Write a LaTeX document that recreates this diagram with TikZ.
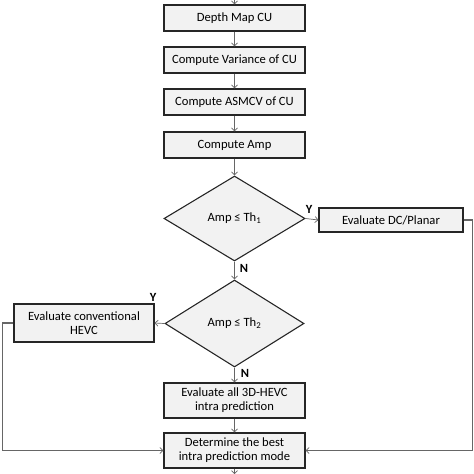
\documentclass[tikz,border=0pt]{standalone}
\usepackage{fontspec}
\setmainfont{Carlito}
\usetikzlibrary{arrows.meta,shapes.geometric,calc,positioning}

\begin{document}
\begin{tikzpicture}[x=1pt,y=-1pt]
		\tikzstyle{every node}=[font=\fontsize{12.6}{14}\selectfont]
		\tikzstyle{stepbox}=[draw=black!85, line width=1.1pt, fill=black!5, minimum width=141pt, align=center, inner sep=1pt]
		\tikzstyle{decision}=[diamond, draw=black!85, line width=1.1pt, fill=black!5, aspect=1.65, inner sep=0pt]
		\tikzstyle{link}=[draw=black!60, line width=0.7pt, -{Straight Barb[length=3pt,width=6pt]}]
		\tikzstyle{loop}=[draw=black!60, line width=1.4pt]
		\tikzstyle{yn}=[font=\fontsize{12.5}{14}\selectfont\bfseries]
		\useasboundingbox (0,0) rectangle (474,474);
		% main column
		\coordinate (start) at (234.5,0);
		\node [stepbox, minimum height=26pt] (depth) at (234.5,18) {Depth Map CU};
		\node [stepbox, minimum height=26pt] (var) at (234.5,60) {Compute Variance of CU};
		\node [stepbox, minimum height=26pt] (asmcv) at (234.5,102) {Compute ASMCV of CU};
		\node [stepbox, minimum height=26pt] (amp) at (234.5,145) {Compute Amp};
		\node [decision, minimum width=141pt, minimum height=85pt] (th1) at (234.5,218.5) {Amp ≤ Th\textsubscript{1}};
		\node [stepbox, minimum width=144pt, minimum height=24pt] (dc) at (391,220) {Evaluate DC/Planar};
		\node [decision, minimum width=139pt, minimum height=87pt] (th2) at (234.5,323.5) {Amp ≤ Th\textsubscript{2}};
		\node [stepbox, minimum width=140pt, minimum height=38pt] (conv) at (84,323) {Evaluate conventional\\HEVC};
		\node [stepbox, minimum height=35pt] (all) at (234.5,400.5) {Evaluate all 3D-HEVC\\intra prediction};
		\node [stepbox, minimum height=35pt] (best) at (234.5,450.5) {Determine the best\\intra prediction mode};
		\coordinate (stop) at (234.5,474);
		% arrows
		\draw [link] (start) -- (depth);
		\draw [link] (depth) -- (var);
		\draw [link] (var) -- (asmcv);
		\draw [link] (asmcv) -- (amp);
		\draw [link] (amp) -- (th1);
		\draw [link] (th1.east) -- (dc.west);
		\draw [link] (th1.south) -- (th2.north);
		\draw [link] (th2.west) -- (conv.east);
		\draw [link] (th2.south) -- (all.north);
		\draw [link] (all) -- (best);
		\draw [link] (best) -- (stop);
		% side paths
		\draw [loop] (dc.east) -- ++(9,0) |- (best.east);
		\draw [link] ($(best.east)+(9,0)$) -- (best.east);
		\draw [loop] (conv.west) -- ++(-11,0) |- (best.west);
		\draw [link] ($(best.west)+(-9,0)$) -- (best.west);
		% labels
		\node [yn] (y1) at (309,209) {Y};
		\node [yn] (n1) at (244,268) {N};
		\node [yn] (y2) at (153,297) {Y};
		\node [yn] (n2) at (245,373) {N};
\end{tikzpicture}
\end{document}
